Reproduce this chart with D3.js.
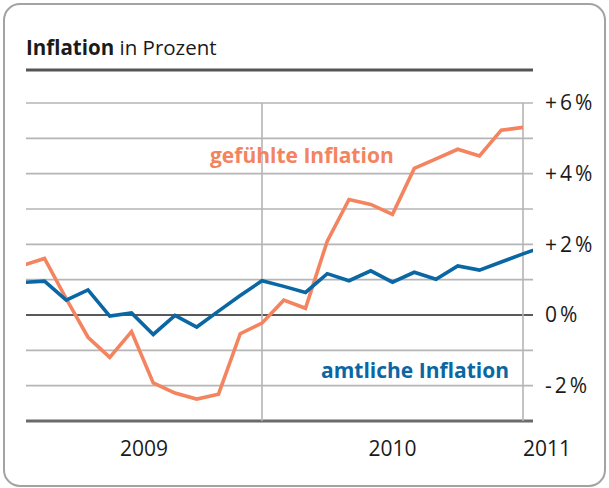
<!DOCTYPE html>
<html>
<head>
<meta charset="utf-8">
<script src="https://cdn.jsdelivr.net/npm/d3@7"></script>
<style>
  html, body { margin: 0; padding: 0; background: #fff; }
  svg { display: block; font-family: "Open Sans", "Noto Sans", sans-serif; }
</style>
</head>
<body>
<div id="chart"></div>
<script>
// Monthly values, Jan 2009 .. Jan 2011
const months = [
  "2009-01", "2009-02", "2009-03", "2009-04", "2009-05", "2009-06",
  "2009-07", "2009-08", "2009-09", "2009-10", "2009-11", "2009-12",
  "2010-01", "2010-02", "2010-03", "2010-04", "2010-05", "2010-06",
  "2010-07", "2010-08", "2010-09", "2010-10", "2010-11", "2010-12",
  "2011-01"
];
const amtlich = [
  0.92, 0.96, 0.42, 0.71, -0.03, 0.06, -0.55, -0.01, -0.34, 0.11, 0.55, 0.97,
  0.81, 0.64, 1.17, 0.97, 1.25, 0.93, 1.21, 1.01, 1.39, 1.27, 1.5, 1.73,
  1.95
];
const gefuehlt = [
  1.4, 1.6, 0.46, -0.63, -1.2, -0.47, -1.92, -2.21, -2.38, -2.24, -0.53, -0.23,
  0.42, 0.19, 2.09, 3.27, 3.13, 2.85, 4.15, 4.42, 4.69, 4.5, 5.23, 5.31
];
const yTicks = [6, 4, 2, 0, -2];
const gridValues = [6, 5, 4, 3, 2, 1, 0, -1, -2, -3];
const years = ["2009", "2010", "2011"];
const yearEnds = [11, 23]; // last month of 2009 and 2010

const W = 609, H = 488;
const plotLeft = 26, plotRight = 533;
const orange = "#f3845f", blue = "#0a67a4";

const svg = d3.select("#chart").append("svg")
  .attr("width", W).attr("height", H);

// frame
svg.append("rect")
  .attr("x", 4).attr("y", 4).attr("width", 601).attr("height", 482)
  .attr("rx", 16).attr("fill", "#fff")
  .attr("stroke", "#a3a3a3").attr("stroke-width", 2);

// title
const title = svg.append("text").attr("x", 26).attr("y", 55)
  .style("font-size", "20.5px").style("fill", "#1a1a1a");
title.append("tspan").style("font-weight", "bold").text("Inflation");
title.append("tspan").text(" in Prozent");
svg.append("line")
  .attr("x1", plotLeft).attr("x2", plotRight).attr("y1", 70).attr("y2", 70)
  .attr("stroke", "#555").attr("stroke-width", 3);

// scales
const x = d3.scaleLinear().domain([11, 23]).range([262, 523]);
const y = d3.scaleLinear().domain([-3, 6]).range([421, 103]);

// horizontal grid
svg.append("g").selectAll("line")
  .data(gridValues)
  .enter()
  .append("line")
  .attr("x1", plotLeft).attr("x2", plotRight)
  .attr("y1", (d) => y(d)).attr("y2", (d) => y(d))
  .attr("stroke", (d) => d === 0 ? "#222" : d === -3 ? "#6a6a6a" : "#b5b5b5")
  .attr("stroke-width", (d) => d === -3 ? 3 : 1.6);

// vertical year boundaries
svg.append("g").selectAll("line")
  .data(yearEnds)
  .enter()
  .append("line")
  .attr("x1", (d) => x(d)).attr("x2", (d) => x(d))
  .attr("y1", y(6)).attr("y2", y(-3))
  .attr("stroke", "#b5b5b5").attr("stroke-width", 1.6);

// y axis labels on the right
const yAxis = svg.append("g")
  .attr("transform", `translate(${plotRight}, 0)`)
  .call(d3.axisRight(y).tickValues(yTicks).tickSize(0).tickPadding(12)
    .tickFormat((d) => (d > 0 ? "+" : d < 0 ? "-" : "") + Math.abs(d) + "%"));
yAxis.select(".domain").remove();
yAxis.selectAll("text")
  .style("font-size", "21px")
  .style("letter-spacing", "3px")
  .style("fill", "#1a1a1a")
  .style("font-family", "'Open Sans', sans-serif");

// year labels
const bounds = [plotLeft, x(yearEnds[0]), x(yearEnds[1])];
svg.append("g").selectAll("text")
  .data(years)
  .enter()
  .append("text")
  .attr("x", (d, i) => i < 2 ? (bounds[i] + bounds[i + 1]) / 2 : bounds[i])
  .attr("y", 456)
  .attr("text-anchor", (d, i) => i < 2 ? "middle" : "start")
  .style("font-size", "21px")
  .style("fill", "#1a1a1a")
  .text((d) => d);

// clip lines to the plot area
svg.append("clipPath").attr("id", "plot-clip")
  .append("rect")
  .attr("x", plotLeft).attr("y", 80)
  .attr("width", plotRight - plotLeft).attr("height", 360);

const line = d3.line()
  .x((d, i) => x(i))
  .y((d) => y(d));

const lines = svg.append("g").attr("clip-path", "url(#plot-clip)");
lines.append("path")
  .datum(gefuehlt)
  .attr("fill", "none")
  .attr("stroke", orange)
  .attr("stroke-width", 3.6)
  .attr("d", line);
lines.append("path")
  .datum(amtlich)
  .attr("fill", "none")
  .attr("stroke", blue)
  .attr("stroke-width", 3.6)
  .attr("d", line);

// series labels
svg.append("text")
  .attr("x", 210).attr("y", 163)
  .style("font-size", "21px").style("font-weight", "bold")
  .style("fill", orange)
  .text("gefühlte Inflation");
svg.append("text")
  .attr("x", 321).attr("y", 378)
  .style("font-size", "21px").style("font-weight", "bold")
  .style("fill", blue)
  .text("amtliche Inflation");
</script>
</body>
</html>
